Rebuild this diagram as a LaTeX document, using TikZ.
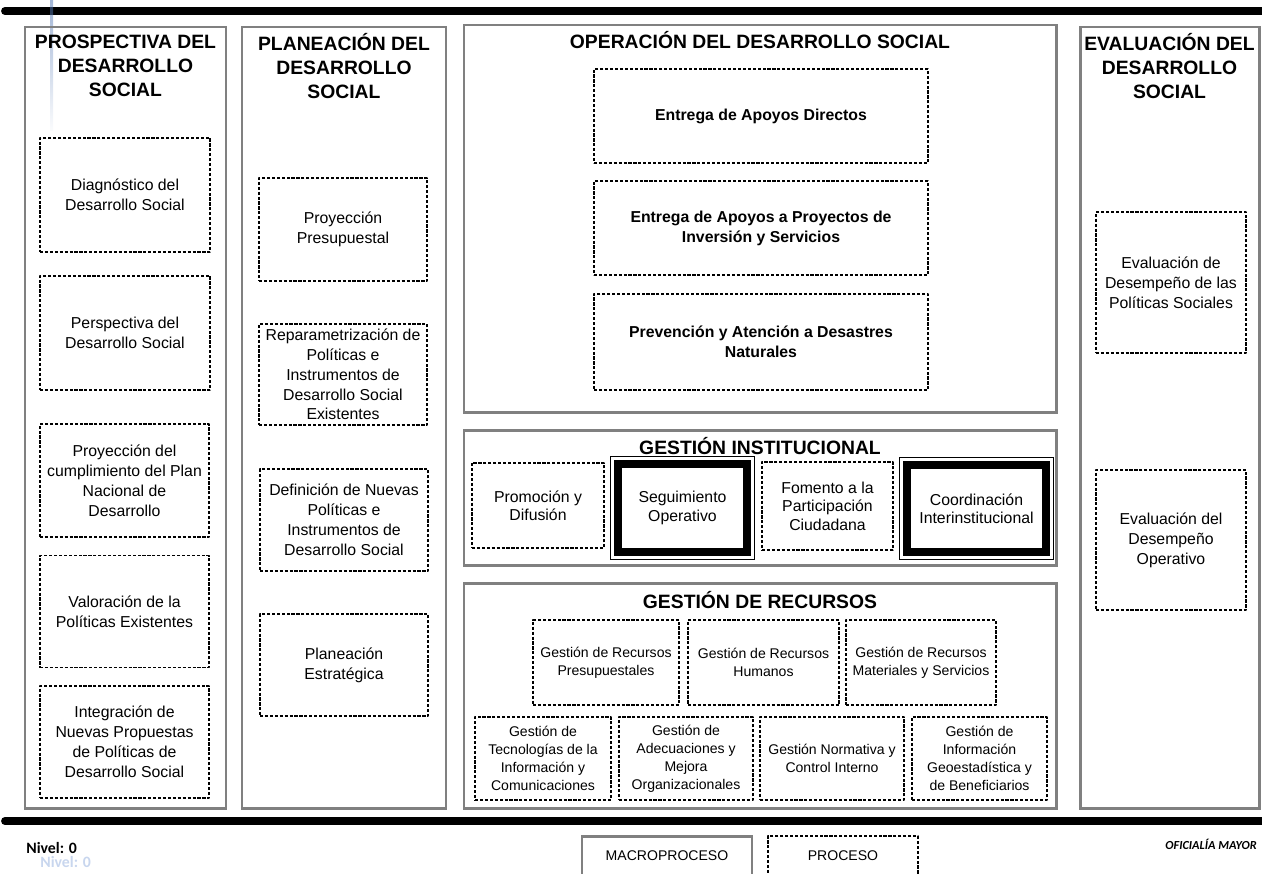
\documentclass[tikz,border=0pt]{standalone}
\usepackage{fontspec}
\setmainfont{Liberation Sans}
\newfontfamily\calibri{Carlito}
\usepackage{tikz}
\usetikzlibrary{fit}
\definecolor{framegray}{RGB}{128,128,128}
\definecolor{ghostblue}{RGB}{200,214,238}
\definecolor{streak}{RGB}{70,110,175}

\begin{document}
\begin{tikzpicture}[line cap=round,line join=round,x=0.02cm,y=-0.02cm,
  sz/.style 2 args={minimum width=#1*0.02cm, minimum height=#2*0.02cm},
  macro/.style={draw=framegray, line width=1.7pt, line join=miter, inner sep=0pt},
  proc/.style={draw, line width=0.9pt, dash pattern=on 1.8pt off 1pt, line cap=butt, align=center, inner sep=1pt, font=\fontsize{9}{11.3}\selectfont},
  recfont/.style={font=\fontsize{8}{10.2}\selectfont},
  boldfont/.style={font=\fontsize{9}{11.3}\selectfont\bfseries},
  keybox/.style={draw, line width=4.5pt, line cap=butt, line join=miter, align=center, inner sep=1pt, font=\fontsize{9}{10.5}\selectfont},
  heading/.style={align=center, inner sep=0pt, font=\fontsize{11}{13.6}\selectfont\bfseries}]
\useasboundingbox (0,0) rectangle (1262,873);

\draw[line width=4.5pt] (5,11) -- (1280,11);
\draw[line width=4.5pt] (5,821) -- (1280,821);
\shade[top color=streak, bottom color=streak!5, opacity=0.5] (50,0) rectangle (53,130);

\node[macro, sz={201}{781}] (pros) at (125.5,417.5) {};
\node[macro, sz={204}{781}] (plan) at (344,417.5) {};
\node[macro, sz={592}{387}] (oper) at (760,218.5) {};
\node[macro, sz={592}{135}] (gins) at (760,497.5) {};
\node[macro, sz={592}{225}] (grec) at (760,695.5) {};
\node[macro, sz={179}{781}] (eval) at (1169.5,417.5) {};

\node[heading] (prosT) at (125.5,66) {PROSPECTIVA DEL\\DESARROLLO\\SOCIAL};
\node[heading] (planT) at (344,66) {PLANEACIÓN DEL\\DESARROLLO\\SOCIAL};
\node[heading] (evalT) at (1169.5,66) {EVALUACIÓN DEL\\DESARROLLO\\SOCIAL};
\node[heading] (operT) at (760,40) {OPERACIÓN DEL DESARROLLO SOCIAL};
\node[heading, font=\fontsize{11}{13}\selectfont\bfseries] (ginsT) at (760,446) {GESTIÓN INSTITUCIONAL};
\node[heading, font=\fontsize{11}{13}\selectfont\bfseries] (grecT) at (760,600) {GESTIÓN DE RECURSOS};

\node[proc, sz={170}{114}] (diag) at (125,195) {Diagnóstico del\\Desarrollo Social};
\node[proc, sz={170}{114}] (pers) at (125,333) {Perspectiva del\\Desarrollo Social};
\node[proc, sz={169}{113}] (pnd) at (124.5,480.5) {Proyección del\\cumplimiento del Plan\\Nacional de\\Desarrollo};
\node[proc, sz={169}{112}] (valo) at (124.5,611.5) {Valoración de la\\Políticas Existentes};
\node[proc, sz={169}{112}] (inte) at (124.5,742) {Integración de\\Nuevas Propuestas\\de Políticas de\\Desarrollo Social};

\node[proc, sz={168}{103}] (ppre) at (343,229.5) {Proyección\\Presupuestal};
\node[proc, sz={168}{101}] (repa) at (343,374.5) {Reparametrización de\\Políticas e\\Instrumentos de\\Desarrollo Social\\Existentes};
\node[proc, sz={168}{102}] (defi) at (344,520) {Definición de Nuevas\\Políticas e\\Instrumentos de\\Desarrollo Social};
\node[proc, sz={168}{102}] (pest) at (344,665) {Planeación\\Estratégica};

\node[proc, boldfont, sz={334}{94}] (apdi) at (761,116) {Entrega de Apoyos Directos};
\node[proc, boldfont, sz={334}{94}] (appr) at (761,228) {Entrega de Apoyos a Proyectos de\\Inversión y Servicios};
\node[proc, boldfont, sz={334}{96}] (desa) at (761,342) {Prevención y Atención a Desastres\\Naturales};

\node[proc, sz={132}{85}, font=\fontsize{9}{10.5}\selectfont] (prom) at (538,505.5) {Promoción y\\Difusión};
\node[keybox, sz={129}{88}] (segu) at (682.5,508) {Seguimiento\\Operativo};
\node[fit=(segu), draw, line width=0.8pt, line join=miter, inner sep=0.07cm] (seguF) {};
\node[proc, sz={131}{88}, font=\fontsize{9}{10.5}\selectfont] (fome) at (827.5,506) {Fomento a la\\Participación\\Ciudadana};
\node[keybox, sz={139}{87}] (coor) at (976.5,508.5) {Coordinación\\Interinstitucional};
\node[fit=(coor), draw, line width=0.8pt, line join=miter, inner sep=0.07cm] (coorF) {};

\node[proc, recfont, sz={146}{85}] (rpre) at (606,662.5) {Gestión de Recursos\\Presupuestales};
\node[proc, recfont, sz={151}{85}] (rhum) at (763.5,662.5) {Gestión de Recursos\\Humanos};
\node[proc, recfont, sz={150}{85}] (rmat) at (921,662.5) {Gestión de Recursos\\Materiales y Servicios};
\node[proc, recfont, sz={136}{83}] (rtic) at (543,758.5) {Gestión de\\Tecnologías de la\\Información y\\Comunicaciones};
\node[proc, recfont, sz={134}{83}] (rade) at (686,758.5) {Gestión de\\Adecuaciones y\\Mejora\\Organizacionales};
\node[proc, recfont, sz={144}{83}] (rnor) at (832,758.5) {Gestión Normativa y\\Control Interno};
\node[proc, recfont, sz={135}{83}] (rgeo) at (979.5,758.5) {Gestión de\\Información\\Geoestadística y\\de Beneficiarios};

\node[proc, sz={150}{141}] (edps) at (1171,282.5) {Evaluación de\\Desempeño de las\\Políticas Sociales};
\node[proc, sz={150}{140}] (edop) at (1171,540) {Evaluación del\\Desempeño\\Operativo};

\node[macro, sz={170}{40}, font=\fontsize{8}{10}\selectfont] (legM) at (667,856) {MACROPROCESO};
\node[proc, sz={150}{40}, font=\fontsize{8}{10}\selectfont] (legP) at (843,856) {PROCESO};

\node[anchor=west, inner sep=0pt, font=\calibri\bfseries\fontsize{9}{11}\selectfont] (niv) at (26,848) {Nivel: 0};
\node[anchor=west, inner sep=0pt, text=ghostblue, font=\calibri\bfseries\fontsize{9}{11}\selectfont] (nivG) at (40,862) {Nivel: 0};
\node[anchor=east, inner sep=0pt, font=\calibri\bfseries\itshape\fontsize{7}{8}\selectfont] (ofm) at (1257,844) {OFICIALÍA MAYOR};
\end{tikzpicture}
\end{document}
